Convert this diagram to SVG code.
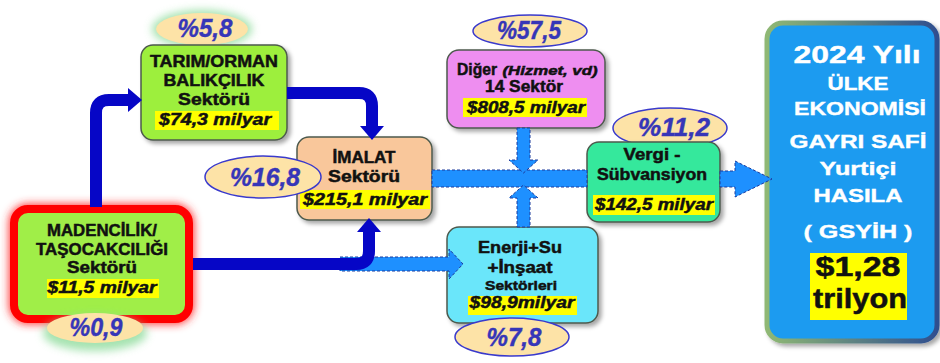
<svg xmlns="http://www.w3.org/2000/svg" width="940" height="363" viewBox="0 0 940 363">
<defs>
<filter id="sh" x="-20%" y="-20%" width="140%" height="140%"><feDropShadow dx="3" dy="3" stdDeviation="2" flood-color="#000" flood-opacity="0.35"/></filter>
<filter id="blur" x="-30%" y="-30%" width="160%" height="160%"><feGaussianBlur stdDeviation="4"/></filter>
<linearGradient id="bord" x1="0" y1="0" x2="1" y2="0"><stop offset="0" stop-color="#8fb874"/><stop offset="1" stop-color="#2f4f8f"/></linearGradient>
<style>
.t{font-family:"Liberation Sans",Arial,sans-serif;font-weight:bold;font-size:16.5px;fill:#111;stroke:#111;stroke-width:0.5;text-anchor:middle}
.m{font-family:"Liberation Sans",Arial,sans-serif;font-weight:bold;font-style:italic;font-size:17px;fill:#111;stroke:#111;stroke-width:0.5;text-anchor:middle}
.p{font-family:"Liberation Sans",Arial,sans-serif;font-weight:bold;font-style:italic;font-size:25px;fill:#3636b8;stroke:#3636b8;stroke-width:0.4;text-anchor:middle}
.w{font-family:"Liberation Sans",Arial,sans-serif;font-weight:bold;font-size:19px;fill:#fff;stroke:#fff;stroke-width:0.4;text-anchor:middle}
.k{font-family:"Liberation Sans",Arial,sans-serif;font-weight:bold;font-size:28px;fill:#111;stroke:#111;stroke-width:0.5;text-anchor:middle}
.box{stroke:#4d5a4d;stroke-width:1.5;filter:url(#sh)}
.hl{fill:#ffff00}
.el{fill:#fde3a7;stroke:#3a3acc;stroke-width:1.5}
.elg{fill:#fde3a7}
.glow{fill:#8fdc9c;opacity:0.8;filter:url(#blur)}
.db{fill:none;stroke:#0606c6;stroke-width:12}
.dbh{fill:#0606c6}
.lb{fill:#1e90ff;stroke:#1c3a9c;stroke-width:1;stroke-dasharray:3 2}
</style>
</defs>
<rect width="940" height="363" fill="#ffffff"/>

<g id="madencilik">
<rect x="14" y="209" width="175" height="110" rx="14" fill="none" stroke="#ff3030" stroke-width="10" filter="url(#blur)"/>
<rect x="14" y="209" width="175" height="110" rx="14" fill="#a0ee48" stroke="#ff0000" stroke-width="8"/>
<rect class="hl" x="47" y="279" width="112" height="19"/>
<text class="t" x="102" y="236" textLength="110" lengthAdjust="spacingAndGlyphs">MADENCİLİK/</text>
<text class="t" x="102" y="255" textLength="132" lengthAdjust="spacingAndGlyphs">TAŞOCAKCILIĞI</text>
<text class="t" x="102" y="273" textLength="70" lengthAdjust="spacingAndGlyphs">Sektörü</text>
<text class="m" x="102" y="293" textLength="109" lengthAdjust="spacingAndGlyphs">$11,5 milyar</text>
<ellipse class="glow" cx="95" cy="333" rx="52" ry="18"/>
<ellipse class="elg" cx="95" cy="328" rx="48" ry="15"/>
<text class="p" x="96" y="336" textLength="53" lengthAdjust="spacingAndGlyphs">%0,9</text>
</g>

<g id="tarim">
<ellipse class="glow" cx="202" cy="29" rx="50" ry="19"/>
<ellipse class="elg" cx="202" cy="29" rx="46" ry="16"/>
<text class="p" x="205" y="37" textLength="55" lengthAdjust="spacingAndGlyphs">%5,8</text>
<rect class="box" x="141" y="45" width="146" height="95" rx="12" fill="#9def3d"/>
<rect class="hl" x="155" y="111" width="124" height="19"/>
<text class="t" x="214" y="67" textLength="128" lengthAdjust="spacingAndGlyphs">TARIM/ORMAN</text>
<text class="t" x="214" y="86" textLength="101" lengthAdjust="spacingAndGlyphs">BALIKÇILIK</text>
<text class="t" x="214" y="105" textLength="72" lengthAdjust="spacingAndGlyphs">Sektörü</text>
<text class="m" x="215" y="125" textLength="112" lengthAdjust="spacingAndGlyphs">$74,3 milyar</text>
</g>

<g id="imalat">
<rect class="box" x="297" y="137" width="135" height="83" rx="12" fill="#f9c79b"/>
<rect class="hl" x="300" y="190" width="130" height="19"/>
<text class="t" x="364" y="163" textLength="63" lengthAdjust="spacingAndGlyphs">İMALAT</text>
<text class="t" x="364" y="182" textLength="72" lengthAdjust="spacingAndGlyphs">Sektörü</text>
<text class="m" x="365" y="205" textLength="124" lengthAdjust="spacingAndGlyphs">$215,1 milyar</text>
<ellipse class="el" cx="263" cy="177" rx="58" ry="21"/>
<text class="p" x="265" y="186" textLength="70" lengthAdjust="spacingAndGlyphs">%16,8</text>
</g>

<g id="diger">
<ellipse class="el" cx="530" cy="31" rx="57" ry="16"/>
<text class="p" x="529" y="39" textLength="64" lengthAdjust="spacingAndGlyphs">%57,5</text>
<rect class="box" x="447" y="50" width="158" height="78" rx="12" fill="#ee8ef0"/>
<rect class="hl" x="463" y="98" width="124" height="19"/>
<text class="t" x="477" y="75" textLength="40" lengthAdjust="spacingAndGlyphs">Diğer</text>
<text class="m" x="550" y="75" style="font-size:12.5px" textLength="95" lengthAdjust="spacingAndGlyphs">(Hizmet, vd)</text>
<text class="t" x="524" y="92" textLength="78" lengthAdjust="spacingAndGlyphs">14 Sektör</text>
<text class="m" x="526" y="113" textLength="118" lengthAdjust="spacingAndGlyphs">$808,5 milyar</text>
</g>

<g id="enerji">
<rect class="box" x="447" y="227" width="151" height="96" rx="12" fill="#6ae6fa"/>
<rect class="hl" x="468" y="296" width="109" height="19"/>
<text class="t" x="520" y="253" textLength="84" lengthAdjust="spacingAndGlyphs">Enerji+Su</text>
<text class="t" x="520" y="273" textLength="65" lengthAdjust="spacingAndGlyphs">+İnşaat</text>
<text class="t" x="521" y="290" style="font-size:13.5px" textLength="72" lengthAdjust="spacingAndGlyphs">Sektörleri</text>
<text class="m" x="522" y="308" textLength="105" lengthAdjust="spacingAndGlyphs">$98,9milyar</text>
<ellipse class="el" cx="512" cy="337" rx="57" ry="19"/>
<text class="p" x="514" y="346" textLength="55" lengthAdjust="spacingAndGlyphs">%7,8</text>
</g>

<g id="vergi">
<ellipse class="el" cx="670" cy="128" rx="57" ry="20"/>
<text class="p" x="674" y="136" textLength="72" lengthAdjust="spacingAndGlyphs">%11,2</text>
<rect class="box" x="587" y="142" width="133" height="80" rx="12" fill="#34e89c"/>
<rect class="hl" x="593" y="195" width="122" height="20"/>
<text class="t" x="652" y="160" textLength="57" lengthAdjust="spacingAndGlyphs">Vergi -</text>
<text class="t" x="652" y="180" textLength="110" lengthAdjust="spacingAndGlyphs">Sübvansiyon</text>
<text class="m" x="654" y="210" textLength="118" lengthAdjust="spacingAndGlyphs">$142,5 milyar</text>
</g>

<g id="gsyih">
<rect x="767" y="23" width="170" height="318" rx="16" fill="#1a9bf0" stroke="url(#bord)" stroke-width="5" filter="url(#sh)"/>
<text class="w" x="857" y="63" style="font-size:24px" textLength="127" lengthAdjust="spacingAndGlyphs">2024 Yılı</text>
<text class="w" x="858" y="90" textLength="61" lengthAdjust="spacingAndGlyphs">ÜLKE</text>
<text class="w" x="860" y="115" textLength="132" lengthAdjust="spacingAndGlyphs">EKONOMİSİ</text>
<text class="w" x="858" y="148" textLength="137" lengthAdjust="spacingAndGlyphs">GAYRI SAFİ</text>
<text class="w" x="858" y="175" textLength="77" lengthAdjust="spacingAndGlyphs">Yurtiçi</text>
<text class="w" x="858" y="202" textLength="89" lengthAdjust="spacingAndGlyphs">HASILA</text>
<text class="w" x="858" y="238" textLength="109" lengthAdjust="spacingAndGlyphs">( GSYİH )</text>
<rect class="hl" x="810" y="253" width="97" height="67"/>
<text class="k" x="858" y="276" textLength="85" lengthAdjust="spacingAndGlyphs">$1,28</text>
<text class="k" x="860" y="308" textLength="94" lengthAdjust="spacingAndGlyphs">trilyon</text>
</g>

<g id="connectors">
<polygon class="lb" points="340,257 449,257 449,249 463,264 449,279 449,271 340,271"/>
<path class="db" d="M96,207 V113 Q96,100 109,100 H129"/>
<polygon class="dbh" points="128,88 142,100 128,112"/>
<path class="db" d="M287,93 H359 Q372,93 372,106 V127"/>
<polygon class="dbh" points="360,126 384,126 372,140"/>
<path class="db" d="M193,264 H356 Q369,264 369,251 V231"/>
<polygon class="dbh" points="357,232 381,232 369,218"/>
<rect class="lb" x="432" y="170" width="155" height="17"/>
<polygon class="lb" points="517,128 530,128 530,160 538,160 523.5,173 509,160 517,160"/>
<polygon class="lb" points="517,227 530,227 530,198 538,198 523.5,185 509,198 517,198"/>
<polygon class="lb" points="720,171 735,171 735,161 772,179 735,197 735,187 720,187"/>
</g>
</svg>
